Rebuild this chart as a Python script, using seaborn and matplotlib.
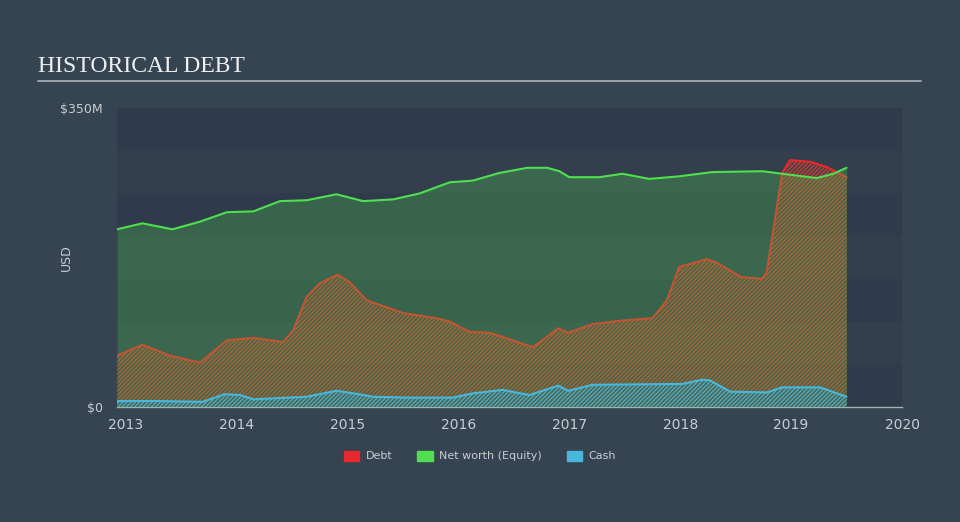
import matplotlib
matplotlib.use("Agg")
import matplotlib.pyplot as plt
import matplotlib.patches as mpatches
import numpy as np
import pandas as pd
import seaborn as sns

# values in $M, x in fractional years
debt_x = [2012.92, 2013.15, 2013.40, 2013.67, 2013.91, 2014.15, 2014.42, 2014.51, 2014.63,
          2014.75, 2014.91, 2015.02, 2015.17, 2015.50, 2015.80, 2015.92, 2016.10, 2016.28,
          2016.40, 2016.67, 2016.90, 2016.99, 2017.21, 2017.46, 2017.75, 2017.88, 2017.99,
          2018.24, 2018.33, 2018.55, 2018.74, 2018.78, 2018.92, 2018.99, 2019.17, 2019.32,
          2019.50]
debt_v = [60, 73, 60, 52, 78, 81, 76, 90, 129,
          145, 155, 146, 125, 110, 104, 100, 88, 87,
          82, 70, 92, 87, 97, 101, 104, 125, 164,
          173, 169, 152, 150, 158, 274, 289, 287, 281,
          269]

equity_x = [2012.92, 2013.15, 2013.42, 2013.67, 2013.91, 2014.15, 2014.39, 2014.63, 2014.90,
            2015.14, 2015.41, 2015.65, 2015.92, 2016.13, 2016.37, 2016.62, 2016.80, 2016.91,
            2017.00, 2017.27, 2017.48, 2017.72, 2017.99, 2018.29, 2018.74, 2018.92, 2019.23,
            2019.38, 2019.50]
equity_v = [208, 215, 208, 217, 228, 229, 241, 242, 249,
            241, 243, 250, 263, 265, 274, 280, 280, 276,
            269, 269, 273, 267, 270, 275, 276, 273, 268,
            273, 280]

cash_x = [2012.92, 2013.28, 2013.69, 2013.89, 2014.03, 2014.15, 2014.63, 2014.90, 2015.05,
          2015.23, 2015.53, 2015.95, 2016.13, 2016.40, 2016.64, 2016.90, 2016.99, 2017.21,
          2018.02, 2018.20, 2018.27, 2018.45, 2018.78, 2018.92, 2019.26, 2019.50]
cash_v = [7, 7, 6, 15, 14, 9, 12, 19, 16,
          12, 11, 11, 16, 20, 14, 25, 19, 26,
          27, 32, 31, 18, 17, 23, 23, 12]

year_ticks = [2013, 2014, 2015, 2016, 2017, 2018, 2019, 2020]
y_ticks = [0, 350]
y_tick_labels = ["$0", "$350M"]

BG = "#364351"
BAND_DARK = "#2f3b4a"
BAND_LIGHT = "#343f4e"
TXT = "#c9cdd2"
RED = "#e8282a"
GREEN = "#4fdf4f"
BLUE = "#47b8dc"

sns.set_theme(style="dark", rc={
    "figure.facecolor": BG,
    "axes.facecolor": BG,
    "hatch.linewidth": 0.7,
})
plt.rcParams["font.family"] = ["DejaVu Sans"]

fig = plt.figure(figsize=(9.6, 5.22), dpi=100)
ax = fig.add_axes([117 / 960, 1 - 407 / 522, 785 / 960, 299 / 522])

# background bands every 50M
for i, lo in enumerate(range(0, 350, 50)):
    ax.axhspan(lo, lo + 50, color=BAND_DARK if (i % 2 == 0) else BAND_LIGHT, lw=0, zorder=0)

debt = pd.DataFrame({"year": debt_x, "value": debt_v})
equity = pd.DataFrame({"year": equity_x, "value": equity_v})
cash = pd.DataFrame({"year": cash_x, "value": cash_v})

# debt area (hatched)
ax.fill_between(debt["year"], 0, debt["value"], facecolor=(0.9, 0.3, 0.2, 0.15),
                edgecolor="#e63a2a", hatch="////////", linewidth=0, zorder=1)
sns.lineplot(data=debt, x="year", y="value", color=RED, lw=1.5, ax=ax, zorder=2)

# equity area on top with transparency
ax.fill_between(equity["year"], 0, equity["value"], facecolor=GREEN, alpha=0.25,
                linewidth=0, zorder=3)
sns.lineplot(data=equity, x="year", y="value", color=GREEN, lw=1.5, ax=ax, zorder=4)

# cash area
ax.fill_between(cash["year"], 0, cash["value"], facecolor=(0.28, 0.45, 0.42, 0.6),
                edgecolor=BLUE, hatch="////////", linewidth=0, zorder=5)
sns.lineplot(data=cash, x="year", y="value", color=BLUE, lw=1.5, ax=ax, zorder=6)

ax.set_xlim(2012.92, 2020.0)
ax.set_ylim(0, 350)
ax.set_xticks(year_ticks)
ax.set_xticklabels([str(y) for y in year_ticks], color=TXT, fontsize=10)
ax.set_yticks(y_ticks)
ax.set_yticklabels(y_tick_labels, color=TXT, fontsize=9)
ax.tick_params(axis="x", length=6, width=1, color="#a9b0b8", pad=2)
ax.tick_params(axis="y", length=0, pad=10)
ax.set_xlabel("")
ax.set_ylabel("")
ax.grid(False)
for s in ["top", "right", "left"]:
    ax.spines[s].set_visible(False)
ax.spines["bottom"].set_color("#a9b0b8")
ax.spines["bottom"].set_linewidth(1)

fig.text(66 / 960, 1 - 258 / 522, "USD", rotation=90, color=TXT, fontsize=9,
         ha="center", va="center")

# title and rule
fig.text(38 / 960, 1 - 67 / 522, "HISTORICAL DEBT", family="Liberation Serif",
         fontsize=17, color="#eef0f2", va="center", ha="left")
fig.add_artist(plt.Line2D([38 / 960, 921 / 960], [1 - 81 / 522, 1 - 81 / 522],
                          color="#a3aab2", lw=1.3))

handles = [mpatches.Patch(color=RED, label="Debt"),
           mpatches.Patch(color=GREEN, label="Net worth (Equity)"),
           mpatches.Patch(color=BLUE, label="Cash")]
fig.legend(handles=handles, loc="center", bbox_to_anchor=(480 / 960, 1 - 456 / 522),
           ncol=3, frameon=False, fontsize=8, labelcolor=TXT, handlelength=1.4,
           handleheight=1.0, columnspacing=2.2, handletextpad=0.6)

fig.savefig("out.png", dpi=100, facecolor=BG)
